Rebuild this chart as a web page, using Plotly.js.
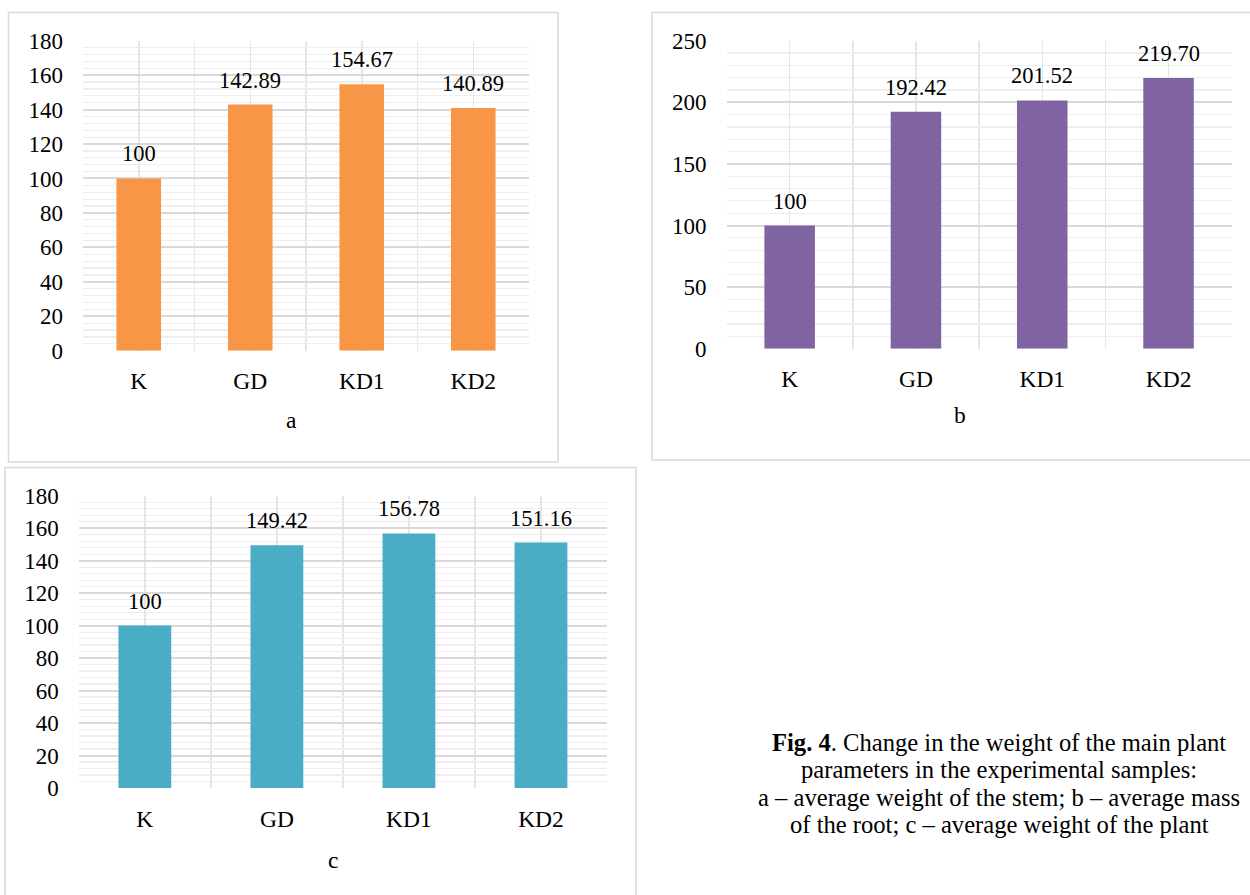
<!DOCTYPE html>
<html>
<head>
<meta charset="utf-8">
<script src="https://cdn.plot.ly/plotly-3.0.1.min.js"></script>
<style>
  html, body { margin: 0; padding: 0; background: #fff; }
  #chart { width: 1250px; height: 895px; }
</style>
</head>
<body>
<div id="chart"></div>
<script>
// ---- data ----
const categories = ["K", "GD", "KD1", "KD2"];
const stemWeight = [100, 142.89, 154.67, 140.89];
const stemLabels = ["100", "142.89", "154.67", "140.89"];
const rootMass = [100, 192.42, 201.52, 219.70];
const rootLabels = ["100", "192.42", "201.52", "219.70"];
const plantWeight = [100, 149.42, 156.78, 151.16];
const plantLabels = ["100", "149.42", "156.78", "151.16"];
const panelLetters = ["a", "b", "c"];
const yTicksA = [0, 20, 40, 60, 80, 100, 120, 140, 160, 180];
const yTicksB = [0, 50, 100, 150, 200, 250];
const yTicksC = [0, 20, 40, 60, 80, 100, 120, 140, 160, 180];
const captionLines = [
  "<b>Fig. 4</b>. Change in the weight of the main plant",
  "parameters in the experimental samples:",
  "a – average weight of the stem; b – average mass",
  "of the root; c – average weight of the plant"
];

const W = 1250, H = 895;
const FONT = "Liberation Serif";
const px = v => v / W;
const py = v => 1 - v / H;

const xIdx = categories.map((c, i) => i);

function bar(vals, color, xa, ya) {
  return {
    type: "bar", x: xIdx, y: vals, xaxis: xa, yaxis: ya,
    marker: { color: color, line: { width: 0 } },
    width: 0.4, hoverinfo: "skip"
  };
}

const traces = [
  bar(stemWeight, "#F79646", "x", "y"),
  bar(rootMass, "#8064A2", "x2", "y2"),
  bar(plantWeight, "#4BACC6", "x3", "y3")
];

function xAxis(domain, anchor) {
  return {
    domain: domain, anchor: anchor, range: [-0.5, 3.5],
    tickvals: xIdx, ticktext: categories,
    showgrid: true, gridcolor: "#e6e6e6", gridwidth: 1.5,
    minor: { tick0: 0.5, dtick: 1, showgrid: true, gridcolor: "#e6e6e6", gridwidth: 1.5, ticks: "" },
    showline: false, zeroline: false, ticks: "",
    ticklabelstandoff: 14,
    tickfont: { family: FONT, size: 23.5, color: "#000" },
    fixedrange: true
  };
}
function yAxis(domain, anchor, ticks, minorStep) {
  return {
    domain: domain, anchor: anchor,
    range: [ticks[0], ticks[ticks.length - 1]],
    tickvals: ticks,
    showgrid: true, gridcolor: "#d9d9d9", gridwidth: 2,
    minor: { dtick: minorStep, showgrid: true, gridcolor: "#eeeeee", gridwidth: 1.2, ticks: "" },
    showline: false, zeroline: false, ticks: "",
    ticklabelstandoff: 19,
    tickfont: { family: FONT, size: 23, color: "#000" },
    fixedrange: true
  };
}

const annotations = [];
function addLabels(vals, labels, xa, ya) {
  vals.forEach((v, i) => {
    annotations.push({
      x: xIdx[i], y: v, xref: xa, yref: ya, text: labels[i],
      showarrow: false, xanchor: "center", yanchor: "bottom", yshift: 10,
      font: { family: FONT, size: 22.5, color: "#000" }
    });
  });
}
addLabels(stemWeight, stemLabels, "x", "y");
addLabels(rootMass, rootLabels, "x2", "y2");
addLabels(plantWeight, plantLabels, "x3", "y3");

const letterPos = [[291, 420], [960, 415], [333, 860]];
panelLetters.forEach((t, i) => {
  annotations.push({
    x: px(letterPos[i][0]), y: py(letterPos[i][1]), xref: "paper", yref: "paper",
    text: t, showarrow: false, xanchor: "center", yanchor: "middle",
    font: { family: FONT, size: 23.5, color: "#000" }
  });
});

const captionY = [742, 769.5, 797, 824.5];
captionLines.forEach((t, i) => {
  annotations.push({
    x: px(999), y: py(captionY[i]), xref: "paper", yref: "paper",
    text: t, showarrow: false, xanchor: "center", yanchor: "middle", align: "center",
    font: { family: FONT, size: 24.6, color: "#000" }
  });
});

const borderLine = { color: "#d9d9d9", width: 1.5 };
const shapes = [
  { type: "rect", xref: "paper", yref: "paper", x0: px(8.5), x1: px(558), y0: py(462), y1: py(12.5), line: borderLine },
  { type: "rect", xref: "paper", yref: "paper", x0: px(652), x1: px(1252), y0: py(460), y1: py(12.5), line: borderLine },
  { type: "rect", xref: "paper", yref: "paper", x0: px(5), x1: px(636), y0: py(900), y1: py(467.5), line: borderLine }
];

const layout = {
  width: W, height: H,
  margin: { l: 0, r: 0, t: 0, b: 0 },
  paper_bgcolor: "#fff", plot_bgcolor: "#fff",
  showlegend: false,
  xaxis: xAxis([px(83), px(529)], "y"),
  yaxis: yAxis([py(350.7), py(40.7)], "x", yTicksA, 4),
  xaxis2: xAxis([px(726.5), px(1231.7)], "y2"),
  yaxis2: yAxis([py(348.7), py(40.7)], "x2", yTicksB, 10),
  xaxis3: xAxis([px(78.8), px(607)], "y3"),
  yaxis3: yAxis([py(788), py(495.7)], "x3", yTicksC, 4),
  annotations: annotations,
  shapes: shapes
};

Plotly.newPlot("chart", traces, layout, { staticPlot: true, displayModeBar: false });
</script>
</body>
</html>
